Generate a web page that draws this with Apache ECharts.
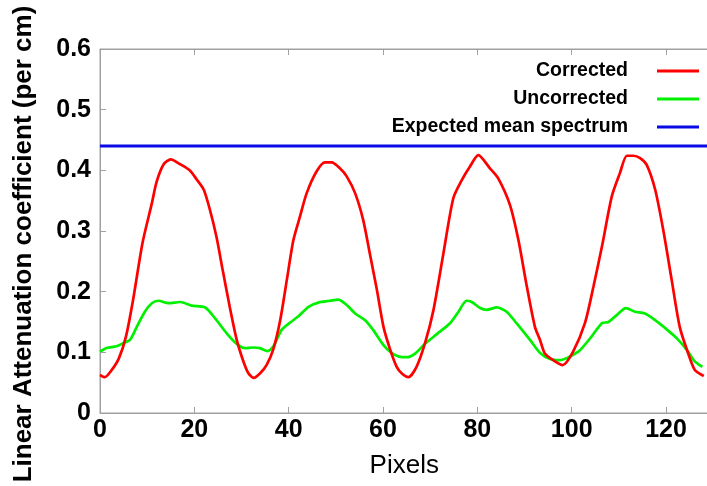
<!DOCTYPE html>
<html><head><meta charset="utf-8">
<script src="https://cdn.jsdelivr.net/npm/echarts@6/dist/echarts.min.js"></script>
<style>html,body{margin:0;padding:0;background:#fff}#c{width:707px;height:486px}</style>
</head><body><div id="c"></div>
<script>
const correctedX = [0,1,2.5,4,5.5,7,9,11,12,13.5,15,17,19,20.5,22,23.3,24.7,26,27.5,29,30.4,31.5,32.6,34,35.3,36.7,38.2,39.6,41,42.4,43.8,45.9,47.7,49.1,50.9,52.3,54.1,55.8,57.2,58.7,60.1,61.5,62.9,64,65.4,67.1,68.9,70.7,72.8,74.9,76.7,78.4,80.2,82.7,84.4,86.9,88.7,90.5,92.2,93.3,94.3,96.1,98.1,100.3,102.8,104.6,106.4,108.5,110.2,111.7,113.1,114.5,115.9,117.7,119.4,121.2,122.9,124.7,126.1,128];
const correctedY = [0.063,0.059,0.071,0.090,0.126,0.186,0.28,0.346,0.381,0.41,0.418,0.41,0.40,0.385,0.368,0.335,0.29,0.236,0.175,0.12,0.085,0.065,0.058,0.066,0.079,0.104,0.153,0.219,0.285,0.324,0.362,0.398,0.413,0.413,0.403,0.39,0.362,0.318,0.263,0.203,0.142,0.105,0.076,0.065,0.059,0.076,0.115,0.17,0.263,0.354,0.384,0.406,0.425,0.403,0.387,0.343,0.285,0.208,0.142,0.12,0.098,0.087,0.079,0.101,0.148,0.208,0.274,0.357,0.395,0.424,0.424,0.42,0.409,0.368,0.302,0.219,0.142,0.098,0.071,0.061];
const uncorrectedX = [0,1.4,3.5,4.9,6.4,7.8,9.5,11,12.4,14.5,17,19.4,22.3,24.4,26.9,29,30.7,32.5,33.9,35.5,36.7,38.5,40.3,42,44.2,46.3,48.8,50.5,52.3,54.1,56.2,57.9,60.1,61.8,63.4,65,66.8,68.9,71.4,74.2,76,77.7,78.8,80.6,82,84.1,86.2,88.3,91.2,93.3,95.4,97.5,99.6,101.8,104.2,106.4,107.8,109.5,111.5,113.4,115.5,117.7,119.8,122.3,124.4,126.1,127.7];
const uncorrectedY = [0.101,0.107,0.110,0.115,0.121,0.142,0.167,0.181,0.185,0.181,0.183,0.177,0.174,0.156,0.131,0.114,0.107,0.108,0.107,0.102,0.109,0.137,0.149,0.159,0.175,0.182,0.185,0.187,0.178,0.164,0.153,0.137,0.112,0.099,0.093,0.092,0.098,0.114,0.13,0.148,0.167,0.185,0.183,0.173,0.17,0.174,0.167,0.148,0.12,0.099,0.089,0.087,0.093,0.104,0.126,0.148,0.15,0.161,0.173,0.167,0.164,0.153,0.14,0.123,0.104,0.085,0.076];
const expectedX = [0,129];
const expectedY = [0.44,0.44];
const seriesNames = ['Corrected','Uncorrected','Expected mean spectrum'];
const xTicks = [0,20,40,60,80,100,120];
const yTicks = [0,0.1,0.2,0.3,0.4,0.5,0.6];

const zip = (xs, ys) => xs.map((x,i)=>[x, ys[i]]);
const axisGrey = '#a0a0a0';
const font = 'Liberation Sans, Arial, sans-serif';

const chart = echarts.init(document.getElementById('c'), null, {renderer:'canvas'});
chart.setOption({
  animation:false,
  backgroundColor:'#fff',
  grid:{left:100, top:49, width:608.5, height:364, show:true, borderColor:axisGrey, borderWidth:1,
    containLabel:false, outerBoundsMode:'none'},
  legend:{
    orient:'vertical', align:'right', right:8, top:61, padding:0,
    icon:'rect', itemWidth:42, itemHeight:3, itemGap:8,
    data:seriesNames,
    textStyle:{fontFamily:font, fontWeight:'bold', fontSize:19.5, color:'#000', lineHeight:20, padding:[0,24,0,0]}
  },
  xAxis:[{
    type:'value', min:0, max:129, interval:20, position:'bottom',
    name:'Pixels', nameLocation:'middle', nameGap:40,
    nameTextStyle:{fontFamily:font, fontSize:26, color:'#000'},
    axisLine:{show:true, lineStyle:{color:axisGrey}},
    axisTick:{show:true, inside:true, length:6, lineStyle:{color:axisGrey}},
    axisLabel:{fontFamily:font, fontWeight:'bold', fontSize:25, color:'#000', margin:5, showMaxLabel:false,
      formatter:v=> xTicks.includes(v)? String(v):''},
    splitLine:{show:false}
  },{
    type:'value', min:0, max:129, interval:20, position:'top',
    axisLine:{show:true, lineStyle:{color:axisGrey}},
    axisTick:{show:true, inside:true, length:6, lineStyle:{color:axisGrey}},
    axisLabel:{show:false}, splitLine:{show:false}
  }],
  yAxis:[{
    type:'value', min:0, max:0.6, interval:0.1,
    name:'Linear Attenuation coefficient (per cm)', nameLocation:'middle', nameGap:63, nameRotate:90,
    nameTextStyle:{fontFamily:font, fontWeight:'bold', fontSize:26, color:'#000', padding:[0,26,0,0]},
    axisLine:{show:true, lineStyle:{color:axisGrey}},
    axisTick:{show:true, inside:true, length:6, lineStyle:{color:axisGrey}},
    axisLabel:{fontFamily:font, fontWeight:'bold', fontSize:25, color:'#000', margin:9,
      formatter:v=>{ const t = yTicks.find(k=>Math.abs(k-v)<1e-9); return t===undefined?'':(t===0?'0':t.toFixed(1)); }},
    splitLine:{show:false}
  }],
  series:[
    {name:seriesNames[0], type:'line', data:zip(correctedX, correctedY), showSymbol:false, symbol:'none', smooth:0.25,
      itemStyle:{color:'#ff0000'}, lineStyle:{color:'#ff0000', width:2.7}, z:3},
    {name:seriesNames[1], type:'line', data:zip(uncorrectedX, uncorrectedY), showSymbol:false, symbol:'none', smooth:0.25,
      itemStyle:{color:'#00f000'}, lineStyle:{color:'#00f000', width:2.7}, z:2},
    {name:seriesNames[2], type:'line', data:zip(expectedX, expectedY), showSymbol:false, symbol:'none',
      itemStyle:{color:'#0a0ae6'}, lineStyle:{color:'#0a0ae6', width:3}, z:1}
  ]
});
</script></body></html>
